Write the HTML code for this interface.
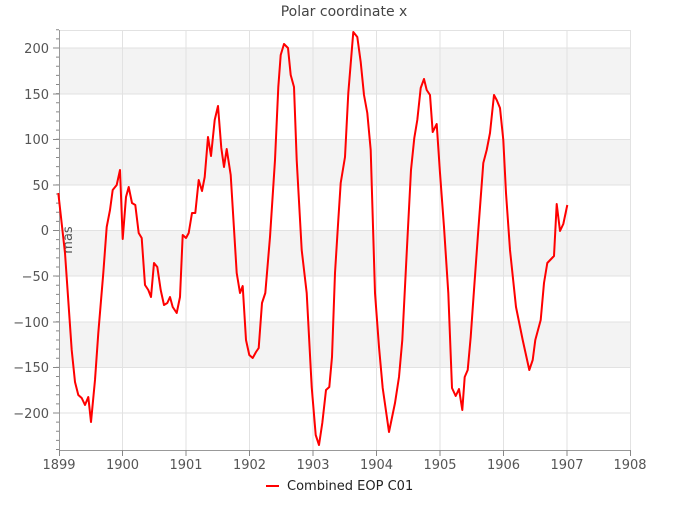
<!DOCTYPE html>
<html><head><meta charset="utf-8"><style>
body{margin:0;background:#fff}
svg text{font-family:"DejaVu Sans","Liberation Sans",sans-serif}
</style></head><body>
<svg width="700" height="500" viewBox="0 0 700 500" xmlns="http://www.w3.org/2000/svg">
<rect width="700" height="500" fill="#fff"/>
<text x="344" y="16" font-size="14" fill="#444" text-anchor="middle">Polar coordinate x</text>
<g fill="#f3f3f3">
<rect x="59" y="48" width="571" height="46"/>
<rect x="59" y="139.5" width="571" height="45.5"/>
<rect x="59" y="230.5" width="571" height="45.5"/>
<rect x="59" y="322" width="571" height="45.5"/>
</g>
<g stroke="#e2e2e2" stroke-width="1">
<line x1="59" x2="630" y1="48" y2="48"/><line x1="59" x2="630" y1="94" y2="94"/>
<line x1="59" x2="630" y1="139.5" y2="139.5"/><line x1="59" x2="630" y1="185" y2="185"/>
<line x1="59" x2="630" y1="230.5" y2="230.5"/><line x1="59" x2="630" y1="276" y2="276"/>
<line x1="59" x2="630" y1="322" y2="322"/><line x1="59" x2="630" y1="367.5" y2="367.5"/>
<line x1="59" x2="630" y1="413" y2="413"/>
<line x1="122.5" x2="122.5" y1="30" y2="450"/><line x1="186" x2="186" y1="30" y2="450"/>
<line x1="249.5" x2="249.5" y1="30" y2="450"/><line x1="313" x2="313" y1="30" y2="450"/>
<line x1="376.5" x2="376.5" y1="30" y2="450"/><line x1="440" x2="440" y1="30" y2="450"/>
<line x1="503.5" x2="503.5" y1="30" y2="450"/><line x1="567" x2="567" y1="30" y2="450"/>
<line x1="630.5" x2="630.5" y1="30" y2="450"/>
<line x1="59" x2="630" y1="30.5" y2="30.5"/>
</g>
<g stroke="#999" stroke-width="1">
<line x1="59.5" x2="59.5" y1="30" y2="450"/>
<line x1="59" x2="630" y1="450.5" y2="450.5"/>
</g>
<path stroke="#888" stroke-width="1" fill="none" d="M56,29.75h3 m-3,9.125h3 m-3,9.125h3 m-3,9.125h3 m-3,9.125h3 m-3,9.125h3 m-3,9.125h3 m-3,9.125h3 m-3,9.125h3 m-3,9.125h3 m-3,9.125h3 m-3,9.125h3 m-3,9.125h3 m-3,9.125h3 m-3,9.125h3 m-3,9.125h3 m-3,9.125h3 m-3,9.125h3 m-3,9.125h3 m-3,9.125h3 m-3,9.125h3 m-3,9.125h3 m-3,9.125h3 m-3,9.125h3 m-3,9.125h3 m-3,9.125h3 m-3,9.125h3 m-3,9.125h3 m-3,9.125h3 m-3,9.125h3 m-3,9.125h3 m-3,9.125h3 m-3,9.125h3 m-3,9.125h3 m-3,9.125h3 m-3,9.125h3 m-3,9.125h3 m-3,9.125h3 m-3,9.125h3 m-3,9.125h3 m-3,9.125h3 m-3,9.125h3 m-3,9.125h3 m-3,9.125h3 m-3,9.125h3 m-3,9.125h3 m-3,9.125h3"/>
<path stroke="#888" stroke-width="1" fill="none" d="M53,48h6 M53,94h6 M53,139.5h6 M53,185h6 M53,230.5h6 M53,276h6 M53,322h6 M53,367.5h6 M53,413h6 M59.5,450v6 M122.5,450v6 M186,450v6 M249.5,450v6 M313,450v6 M376.5,450v6 M440,450v6 M503.5,450v6 M567,450v6 M630.5,450v6"/>
<g font-size="13" fill="#555" text-anchor="end">
<text x="49" y="53">200</text><text x="49" y="99">150</text><text x="49" y="144">100</text>
<text x="49" y="190">50</text><text x="49" y="235">0</text><text x="49" y="281">−50</text>
<text x="49" y="327">−100</text><text x="49" y="372">−150</text><text x="49" y="418">−200</text>
</g>
<g font-size="13" fill="#555" text-anchor="middle">
<text x="59" y="469">1899</text><text x="122.5" y="469">1900</text><text x="186" y="469">1901</text>
<text x="249.5" y="469">1902</text><text x="313" y="469">1903</text><text x="376.5" y="469">1904</text>
<text x="440" y="469">1905</text><text x="503.5" y="469">1906</text><text x="567" y="469">1907</text>
<text x="630" y="469">1908</text>
</g>
<text x="0" y="0" font-size="13" fill="#555" text-anchor="middle" transform="translate(72,240) rotate(-90)">mas</text>
<polyline fill="none" stroke="#f00" stroke-width="2" stroke-linejoin="round" points="
58.3,193 65,253 71.7,350 75,382 78.3,395 81.7,398 85,405 88.3,397 91,422 95,380 98.3,333 103.3,273 106.7,227 110,210 112.7,190 116.7,185 120,170 122.7,239 126,197 128.7,187 132,203 135.3,205 138.7,233 141.7,238 145,285 148.3,290 151,297 154,263 157.3,267 160.7,290 164,305 167.3,303 170,297 172.7,307 176.7,313 180,297 182.7,235 186,238 188.7,233 192,213 195.3,213 198.7,180 202,191 204.7,177 208,137 211,156 214.7,120 218,106 221.3,148 224,167 226.7,149 230.7,175 236.7,273 240,293 242.7,286 246,340 249.3,355 252.7,358 256,352 258.7,348 262,303 265.3,293 270,237 275,160 278.3,87 280.7,55 284,44 288,48 290.7,75 294,87 296.7,160 301.7,250 306.7,293 311.7,387 315.7,435 319,445 322.3,423 326,390 329.3,387 332,357 335,273 338.3,220 340.7,183 345,157 348.3,93 353.3,32 357.3,37 360.7,62 364,95 367.3,113 370.7,150 375,293 379,347 382.7,388 389,432 395,403 399,377 402.3,340 406.7,253 411,170 414.3,138 417.3,120 420.7,88 424,79 426.7,90 430,95 432.7,132 436.7,124 440,173 444,227 448.3,293 452,388 455.7,396 459,389 462.3,410 464.7,377 467.7,370 470.7,337 474,290 478.3,230 483.3,163 486.7,150 490,133 494,95 496.7,100 500,108 503.3,140 506,193 510,250 516,307 522.7,340 529.3,370 532.7,360 535.3,340 540.7,320 544,283 547.3,263 554,256 556.7,204 560,231 563.3,224 567.3,205"/>
<line x1="266" x2="279" y1="486" y2="486" stroke="#f00" stroke-width="2"/>
<text x="287" y="490" font-size="13" fill="#222">Combined EOP C01</text>
</svg>
</body></html>
